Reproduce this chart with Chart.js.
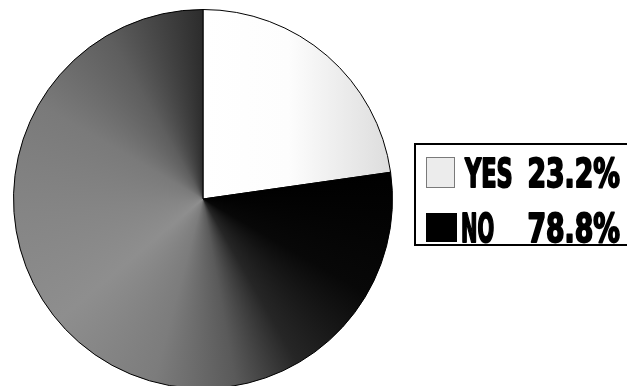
<!DOCTYPE html>
<html>
<head>
<meta charset="utf-8">
<script src="https://cdn.jsdelivr.net/npm/chart.js@4.4.1/dist/chart.umd.min.js"></script>
<style>
  html, body { margin: 0; padding: 0; background: #fff; overflow: hidden; }
  #wrap { position: absolute; left: 0; top: 0; width: 627px; height: 400px; }
</style>
</head>
<body>
<div id="wrap"><canvas id="pie" width="627" height="400"></canvas></div>
<script>
// survey answers
const answers = ['YES', 'NO'];
const shares = [23.2, 78.8];

// grey shading for the NO slice, by angle (degrees clockwise from 12 o'clock)
function noShade(ctx, cx, cy) {
  const g = ctx.createConicGradient(-Math.PI / 2, cx, cy);
  const stops = [
    [80, '#000'], [120, '#080808'], [150, '#262626'], [170, '#5a5a5a'],
    [195, '#7c7c7c'], [230, '#8e8e8e'], [265, '#858585'], [300, '#7a7a7a'],
    [330, '#5e5e5e'], [352, '#3a3a3a'], [360, '#2c2c2c']
  ];
  stops.forEach(([a, c]) => g.addColorStop(a / 360, c));
  return g;
}

function yesShade(ctx, cx, r) {
  const g = ctx.createLinearGradient(cx, 0, cx + r, 0);
  g.addColorStop(0, '#ffffff');
  g.addColorStop(0.45, '#fdfdfd');
  g.addColorStop(1, '#dcdcdc');
  return g;
}

// draw text squeezed horizontally, with a stroke to keep it heavy
function squeezed(ctx, text, x, y, sx, align) {
  ctx.save();
  ctx.translate(x, y);
  ctx.scale(sx, 1);
  ctx.textAlign = align;
  ctx.lineWidth = 2;
  ctx.lineJoin = 'round';
  ctx.strokeStyle = '#000';
  ctx.strokeText(text, 0, 0);
  ctx.fillText(text, 0, 0);
  ctx.restore();
}

// boxed legend to the right of the pie
const boxLegend = {
  id: 'boxLegend',
  afterDraw(chart) {
    const ctx = chart.ctx;
    const ds = chart.data.datasets[0];
    ctx.save();
    ctx.lineWidth = 2;
    ctx.strokeStyle = '#000';
    ctx.strokeRect(415, 144, 220, 101);

    const rows = [
      { y: 157, h: 31, w: 29, x: 465, fill: '#ececec', edge: '#7a7a7a', base: 187, sx: 0.64 },
      { y: 213, h: 29, w: 31, x: 461, fill: '#000', edge: '#000', base: 242, sx: 0.56 }
    ];
    rows.forEach((row, i) => {
      ctx.fillStyle = row.fill;
      ctx.fillRect(426, row.y, row.w, row.h);
      ctx.lineWidth = 1;
      ctx.strokeStyle = row.edge;
      ctx.strokeRect(426.5, row.y + 0.5, row.w - 1, row.h - 1);

      ctx.fillStyle = '#000';
      ctx.textBaseline = 'alphabetic';
      ctx.font = 'bold 39px "DejaVu Sans Condensed", "DejaVu Sans", sans-serif';
      squeezed(ctx, chart.data.labels[i], row.x, row.base, row.sx, 'left');
      squeezed(ctx, ds.data[i].toFixed(1) + '%', 620, row.base, 0.76, 'right');
    });
    ctx.restore();
  }
};

new Chart(document.getElementById('pie'), {
  type: 'pie',
  data: {
    labels: answers,
    datasets: [{
      data: shares,
      backgroundColor(c) {
        const area = c.chart.chartArea;
        if (!area) return '#888';
        const cx = (area.left + area.right) / 2;
        const cy = (area.top + area.bottom) / 2;
        const r = Math.min(area.width, area.height) / 2;
        return c.dataIndex === 0 ? yesShade(c.chart.ctx, cx, r) : noShade(c.chart.ctx, cx, cy);
      },
      borderColor: '#000',
      borderWidth: 1
    }]
  },
  options: {
    responsive: false,
    animation: false,
    layout: { padding: { left: 13, right: 234, top: 9, bottom: 11 } },
    plugins: { legend: { display: false }, tooltip: { enabled: false } }
  },
  plugins: [boxLegend]
});
</script>
</body>
</html>
